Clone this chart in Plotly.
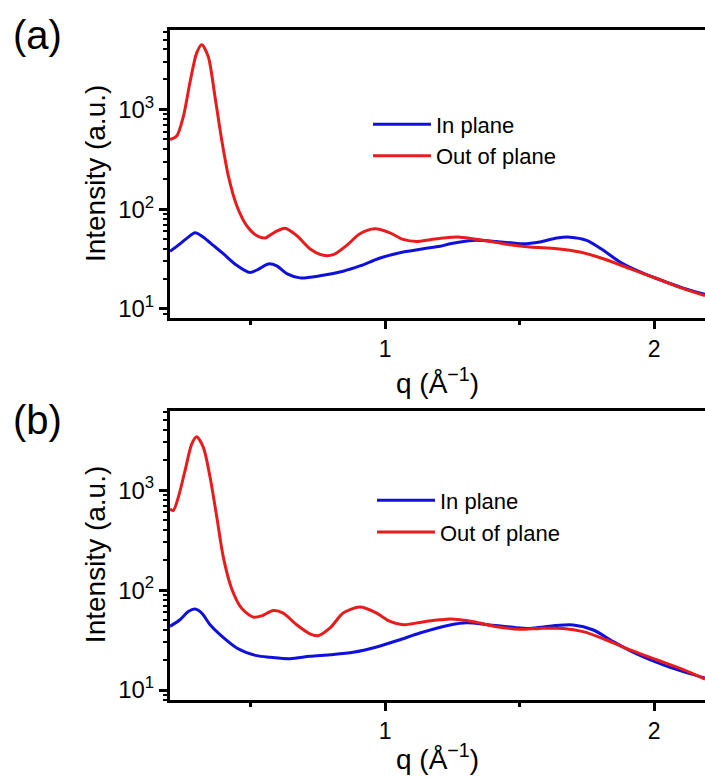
import plotly.graph_objects as go

# ---------------- data ----------------
# Panel (a)
q_a_out = [0.200, 0.225, 0.250, 0.274, 0.299, 0.318, 0.342, 0.367, 0.392, 0.417,
           0.448, 0.485, 0.522, 0.553, 0.590, 0.628, 0.671, 0.720, 0.770, 0.807,
           0.857, 0.906, 0.962, 1.018, 1.067, 1.117, 1.167, 1.204, 1.278, 1.352,
           1.439, 1.538, 1.638, 1.724, 1.811, 1.910, 2.009, 2.108, 2.189]
i_a_out = [500, 542, 858, 1850, 3670, 4450, 3400, 1360, 500, 216,
           109, 68.5, 54.5, 51.4, 59, 64.6, 54.5, 40.2, 34.5, 35,
           43.4, 56.7, 63.7, 58, 49.8, 47.5, 49.5, 51, 52.5, 49.4,
           45.1, 41.8, 40.2, 37.2, 31.9, 25.4, 20.2, 16.0, 13.6]

q_a_in = [0.200, 0.237, 0.268, 0.293, 0.324, 0.361, 0.398, 0.448, 0.497, 0.528,
          0.566, 0.597, 0.634, 0.683, 0.758, 0.844, 0.906, 0.981, 1.067, 1.142,
          1.204, 1.241, 1.328, 1.414, 1.513, 1.575, 1.638, 1.687, 1.749, 1.811,
          1.873, 1.935, 2.009, 2.108, 2.189]
i_a_in = [37.8, 45, 52.5, 58, 52.5, 43.4, 35.8, 27.4, 23.2, 25,
          28.3, 27, 22.6, 20.5, 21.5, 23.9, 27, 32.4, 37.2, 40.2,
          42.5, 45, 48.7, 47.5, 45, 46.9, 51.4, 52.5, 48.7, 38.7,
          29.6, 24.4, 20.2, 16.2, 14.0]

# Panel (b)
q_b_out = [0.200, 0.212, 0.231, 0.256, 0.281, 0.299, 0.324, 0.349, 0.374, 0.398,
           0.429, 0.466, 0.510, 0.541, 0.584, 0.621, 0.671, 0.720, 0.751, 0.795,
           0.844, 0.906, 0.968, 1.018, 1.067, 1.129, 1.204, 1.241, 1.328, 1.414,
           1.501, 1.575, 1.662, 1.736, 1.823, 1.910, 2.009, 2.108, 2.189]
i_b_out = [650, 625, 852, 1570, 2900, 3420, 2680, 1346, 538, 215,
           104, 66, 53.7, 55.3, 62.5, 58.9, 45, 36.6, 35, 41.8,
           58.9, 67.6, 58.9, 48.6, 45, 47.5, 50.4, 51.3, 48.3, 43.1,
           40.5, 41.4, 41.4, 38.4, 31.7, 25.2, 20.1, 16.0, 12.9]

q_b_in = [0.200, 0.237, 0.268, 0.293, 0.318, 0.349, 0.386, 0.448, 0.522, 0.572,
          0.646, 0.720, 0.795, 0.881, 0.968, 1.055, 1.129, 1.241, 1.303, 1.390,
          1.476, 1.538, 1.625, 1.699, 1.774, 1.848, 1.935, 2.034, 2.133, 2.189]
i_b_in = [43.4, 50.5, 61, 64.6, 58.9, 45, 35.8, 26.4, 22.1, 21.3,
          20.6, 21.8, 22.6, 23.9, 27, 31.9, 37.2, 44.8, 47.2, 44.8,
          42.4, 41.4, 44, 44.8, 39.9, 30.5, 23.0, 17.9, 14.6, 13.2]

series_names = ["In plane", "Out of plane"]
panel_labels = ["(a)", "(b)"]
y_tickvals = [10, 100, 1000]
y_ticktext = ["10<sup>1</sup>", "10<sup>2</sup>", "10<sup>3</sup>"]
x_title = "q (Å<sup>−1</sup>)"
y_title = "Intensity (a.u.)"

BLUE = "#1010dc"
RED = "#e81c1c"
FONT = "Arial, Liberation Sans, sans-serif"
W, H = 705, 778

fig = go.Figure()

fig.add_trace(go.Scatter(x=q_a_in, y=i_a_in, name=series_names[0], mode="lines",
                         line=dict(color=BLUE, width=3, shape="spline", smoothing=0.8),
                         xaxis="x", yaxis="y", legend="legend"))
fig.add_trace(go.Scatter(x=q_a_out, y=i_a_out, name=series_names[1], mode="lines",
                         line=dict(color=RED, width=3, shape="spline", smoothing=0.8),
                         xaxis="x", yaxis="y", legend="legend"))
fig.add_trace(go.Scatter(x=q_b_in, y=i_b_in, name=series_names[0], mode="lines",
                         line=dict(color=BLUE, width=3, shape="spline", smoothing=0.8),
                         xaxis="x2", yaxis="y2", legend="legend2"))
fig.add_trace(go.Scatter(x=q_b_out, y=i_b_out, name=series_names[1], mode="lines",
                         line=dict(color=RED, width=3, shape="spline", smoothing=0.8),
                         xaxis="x2", yaxis="y2", legend="legend2"))

def px_x(p):
    return p / W

def px_y(p):
    return 1 - p / H

xdom = [px_x(170), 1.0]
ydom_a = [px_y(320), px_y(30)]
ydom_b = [px_y(704), px_y(413)]

xaxis_common = dict(
    range=[0.2, 2.189], domain=xdom, showline=True, linewidth=3, linecolor="black",
    mirror=True, ticks="outside", ticklen=8, tickwidth=2.5, tickcolor="black",
    tickmode="linear", tick0=0, dtick=1, showgrid=False, zeroline=False,
    tickfont=dict(family=FONT, size=23, color="black"),
    minor=dict(ticks="outside", ticklen=4, tickwidth=2.5, tickcolor="black",
               dtick=0.5, tick0=0, showgrid=False),
)
yaxis_common = dict(
    type="log", showline=True, linewidth=3, linecolor="black", mirror=False,
    ticks="outside", ticklen=8, tickwidth=2.5, tickcolor="black",
    tickmode="array", tickvals=y_tickvals, ticktext=y_ticktext,
    showgrid=False, zeroline=False,
    tickfont=dict(family=FONT, size=24, color="black"),
    minor=dict(ticks="outside", ticklen=4, tickwidth=2, tickcolor="black",
               dtick="D1", showgrid=False),
)

fig.update_layout(
    width=W, height=H, margin=dict(l=0, r=0, t=0, b=0),
    paper_bgcolor="white", plot_bgcolor="white",
    font=dict(family=FONT, color="black"),
    xaxis=dict(**xaxis_common, anchor="y"),
    yaxis=dict(**yaxis_common, domain=ydom_a, range=[0.906, 3.798], anchor="x"),
    xaxis2=dict(**xaxis_common, anchor="y2"),
    yaxis2=dict(**yaxis_common, domain=ydom_b, range=[0.897, 3.793], anchor="x2"),
    legend=dict(x=px_x(368), y=px_y(104), xanchor="left", yanchor="top",
                bgcolor="rgba(0,0,0,0)", borderwidth=0, itemwidth=58,
                font=dict(family=FONT, size=22, color="black"), tracegroupgap=0),
    legend2=dict(x=px_x(372), y=px_y(482), xanchor="left", yanchor="top",
                 bgcolor="rgba(0,0,0,0)", borderwidth=0, itemwidth=58,
                 font=dict(family=FONT, size=22, color="black"), tracegroupgap=0),
    showlegend=True,
)

annotations = []
for lab, cy in zip(panel_labels, [35, 422]):
    annotations.append(dict(text=lab, x=px_x(37), y=px_y(cy), xref="paper", yref="paper",
                            xanchor="center", yanchor="middle", showarrow=False,
                            font=dict(family=FONT, size=40, color="black")))
for cy in [175, 558]:
    annotations.append(dict(text=y_title, x=px_x(95), y=px_y(cy), xref="paper", yref="paper",
                            xanchor="center", yanchor="middle", showarrow=False, textangle=-90,
                            font=dict(family=FONT, size=28, color="black")))
for cy in [383, 761]:
    annotations.append(dict(text=x_title, x=px_x(437), y=px_y(cy), xref="paper", yref="paper",
                            xanchor="center", yanchor="middle", showarrow=False,
                            font=dict(family=FONT, size=28, color="black")))
fig.update_layout(annotations=annotations)

fig.write_html("out.html")
